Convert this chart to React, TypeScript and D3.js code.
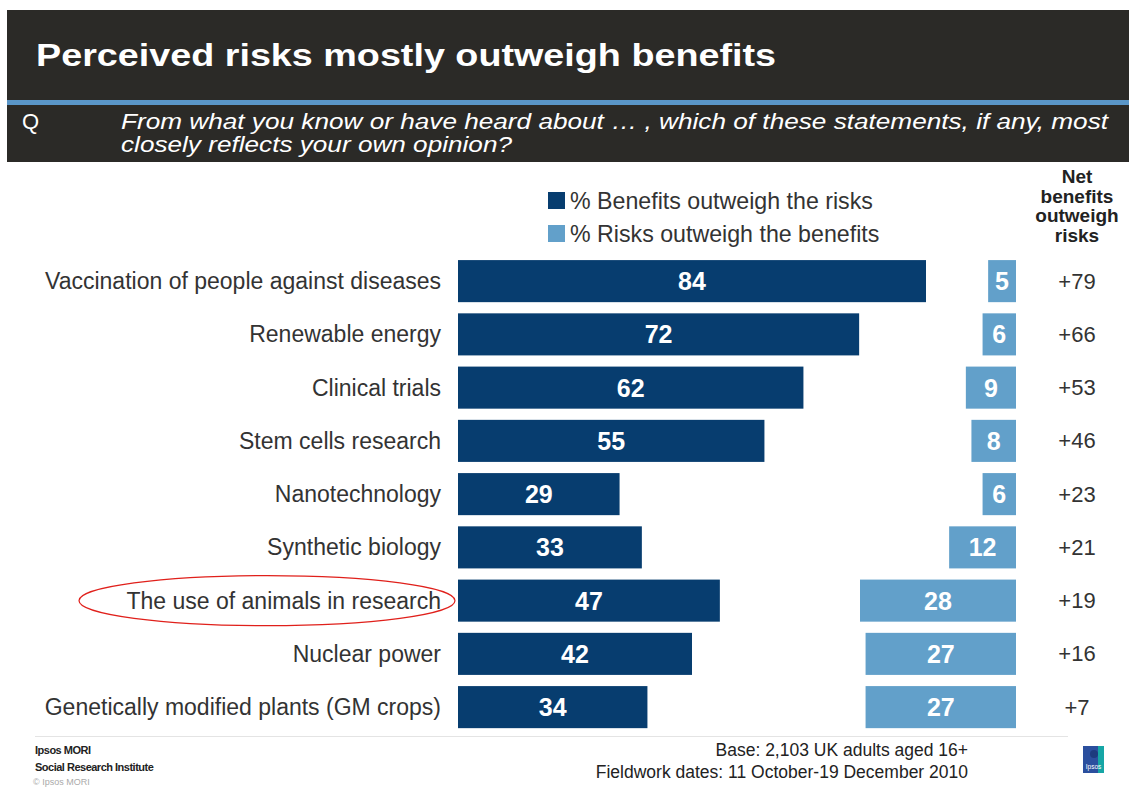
import React from "react";
import * as d3 from "d3";

const categories = [
  "Vaccination of people against diseases",
  "Renewable energy",
  "Clinical trials",
  "Stem cells research",
  "Nanotechnology",
  "Synthetic biology",
  "The use of animals in research",
  "Nuclear power",
  "Genetically modified plants (GM crops)",
];
const benefits = [84, 72, 62, 55, 29, 33, 47, 42, 34];
const risks = [5, 6, 9, 8, 6, 12, 28, 27, 27];
const netLabels = ["+79", "+66", "+53", "+46", "+23", "+21", "+19", "+16", "+7"];
const legendLabels = ["% Benefits outweigh the risks", "% Risks outweigh the benefits"];
const netHeader = ["Net", "benefits", "outweigh", "risks"];

const W = 1129;
const H = 787;
const DARK = "#073d6f";
const LIGHT = "#62a0ca";
const FONT = "Liberation Sans, Arial, sans-serif";

export default function App() {
  const y = d3.scaleBand<string>().domain(categories).range([254.5, 733.75]).paddingInner(0.21).paddingOuter(0.105);
  const xB = d3.scaleLinear().domain([0, 84]).range([458, 926]);
  const xR = d3.scaleLinear().domain([0, 28]).range([1016, 860]);
  const bw = y.bandwidth();

  return (
    <svg width={W} height={H} style={{ position: "absolute", left: 0, top: 0, fontFamily: FONT }}>
      <rect x={0} y={0} width={W} height={H} fill="#fff" />
      {/* header */}
      <rect x={7} y={10} width={W - 7} height={91} fill="#2b2a27" />
      <rect x={7} y={100} width={W - 7} height={5} fill="#5a96c8" />
      <rect x={7} y={105} width={W - 7} height={57} fill="#2b2a27" />
      <text x={36} y={66} fill="#fff" fontSize={32} fontWeight="bold" textLength={740} lengthAdjust="spacingAndGlyphs">
        Perceived risks mostly outweigh benefits
      </text>
      <text x={22} y={129} fill="#fff" fontSize={22}>Q</text>
      <text x={121} y={129} fill="#fff" fontSize={22} fontStyle="italic" textLength={987} lengthAdjust="spacingAndGlyphs">
        From what you know or have heard about … , which of these statements, if any, most
      </text>
      <text x={121} y={152} fill="#fff" fontSize={22} fontStyle="italic" textLength={391} lengthAdjust="spacingAndGlyphs">
        closely reflects your own opinion?
      </text>

      {/* legend */}
      {legendLabels.map((l, i) => (
        <g key={l}>
          <rect x={548} y={192 + i * 33} width={17} height={17} fill={i === 0 ? DARK : LIGHT} />
          <text x={570} y={209 + i * 33} fontSize={23.2} fill="#333">{l}</text>
        </g>
      ))}
      {netHeader.map((t, i) => (
        <text key={t} x={1077} y={183 + i * 19.5} fontSize={19} fontWeight="bold" fill="#222" textAnchor="middle">{t}</text>
      ))}

      {/* rows */}
      {categories.map((c, i) => {
        const y0 = y(c)!;
        const cy = y0 + bw / 2;
        return (
          <g key={c}>
            <text x={441} y={cy + 8} fontSize={23} fill="#333" textAnchor="end">{c}</text>
            <rect x={xB(0)} y={y0} width={xB(benefits[i]) - xB(0)} height={bw} fill={DARK} />
            <text x={(xB(0) + xB(benefits[i])) / 2} y={cy + 9} fontSize={25} fontWeight="bold" fill="#fff" textAnchor="middle">{benefits[i]}</text>
            <rect x={xR(risks[i])} y={y0} width={xR(0) - xR(risks[i])} height={bw} fill={LIGHT} />
            <text x={(xR(0) + xR(risks[i])) / 2} y={cy + 9} fontSize={25} fontWeight="bold" fill="#fff" textAnchor="middle">{risks[i]}</text>
            <text x={1077} y={cy + 7.5} fontSize={22} fill="#333" textAnchor="middle">{netLabels[i]}</text>
          </g>
        );
      })}

      {/* highlight ellipse */}
      <ellipse cx={267} cy={y(categories[6])! + bw / 2} rx={188} ry={25} fill="none" stroke="#e0201b" strokeWidth={1.2} />

      {/* footer */}
      <line x1={35} x2={1068} y1={736.5} y2={736.5} stroke="#e4e4e4" strokeWidth={1} />
      <text x={35} y={754} fontSize={11} fontWeight="bold" fill="#222" letterSpacing={-0.5}>Ipsos MORI</text>
      <text x={35} y={771} fontSize={11} fontWeight="bold" fill="#222" letterSpacing={-0.5}>Social Research Institute</text>
      <text x={33} y={785} fontSize={9} fill="#aaa">© Ipsos MORI</text>
      <text x={968} y={756} fontSize={17.5} fill="#222" textAnchor="end">Base: 2,103 UK adults aged 16+</text>
      <text x={968} y={778} fontSize={17.5} fill="#222" textAnchor="end">Fieldwork dates: 11 October-19 December 2010</text>
      <rect x={1083} y={746} width={21} height={27} fill="#2b4f9e" />
      <path d="M1098,746 L1104,746 L1104,773 L1098,773 Z" fill="#16a6a6" />
      <circle cx={1094} cy={754} r={4} fill="#1d3b7e" />
      <text x={1093.5} y={769} fontSize={6.5} fill="#fff" textAnchor="middle">Ipsos</text>
    </svg>
  );
}
